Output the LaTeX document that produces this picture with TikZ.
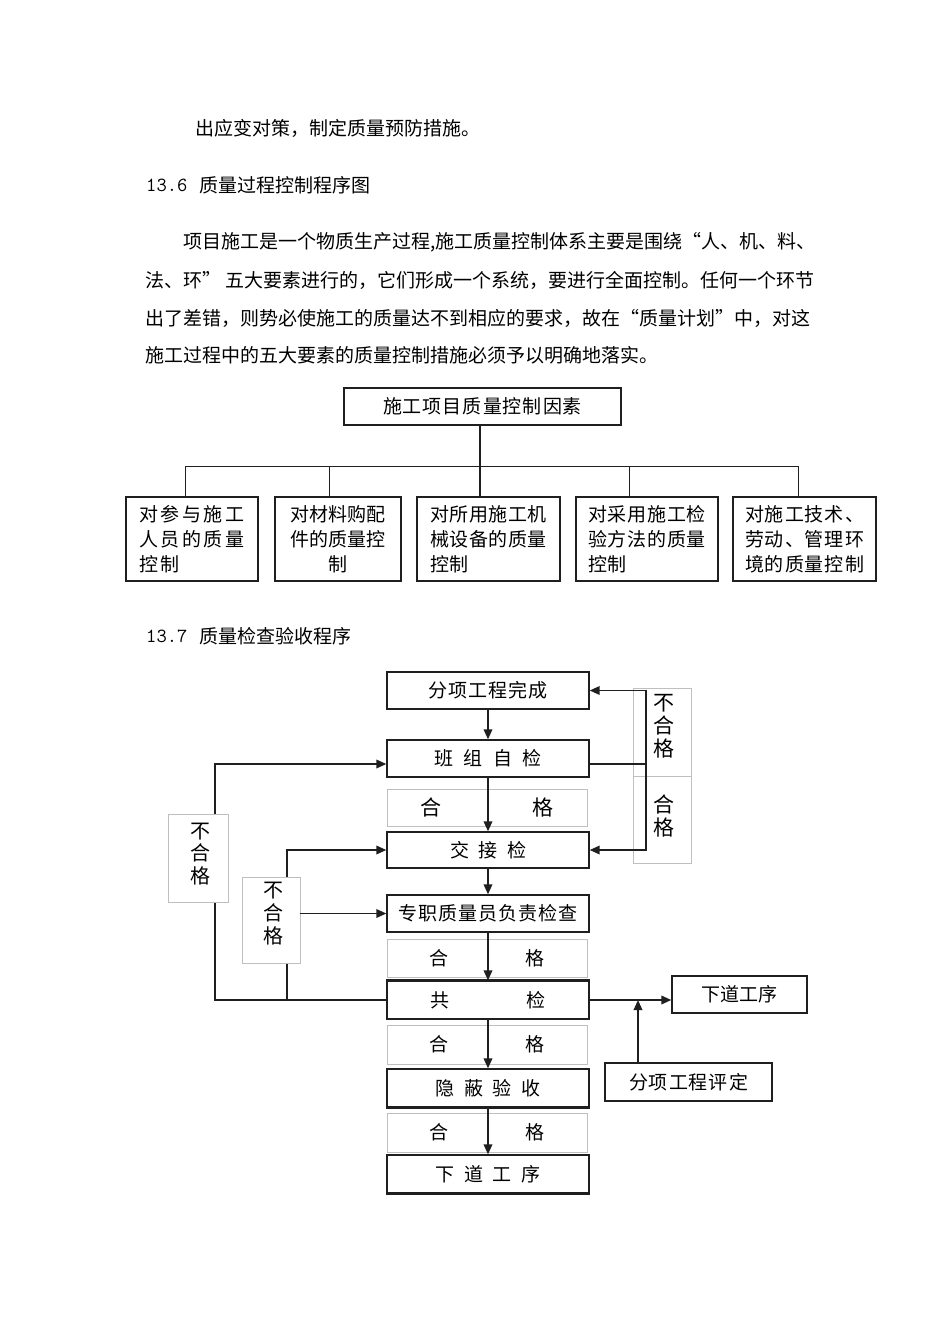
\documentclass[tikz,border=0pt]{standalone}
\usepackage{fontspec}
\setmainfont{Noto Sans CJK SC}
\usetikzlibrary{arrows.meta,backgrounds}
\newcommand\myBody{\fontsize{19}{19}\selectfont}
\newcommand\myBox{\fontsize{19}{25}\selectfont}
\newcommand\myVert{\fontsize{21}{23}\selectfont}
\newcommand\myBig{\fontsize{21}{21}\selectfont}
\makeatletter
\newcommand\ls[2]{\def\ls@k{#1}\ls@a#2\relax}
\def\ls@a#1{\ifx\relax#1\else#1\expandafter\ls@b\fi}
\def\ls@b#1{\ifx\relax#1\else\kern\ls@k pt#1\expandafter\ls@b\fi}
\makeatother
\begin{document}
\begin{tikzpicture}[x=1pt,y=-1pt,
  box/.style={draw=black!88, line width=1.3pt, inner sep=0pt, font=\myBox},
  gbox/.style={draw=black!25, line width=0.9pt, fill=white, inner sep=0pt, font=\myBody},
  conn/.style={draw=black!88, line width=1.8pt},
  thin/.style={draw=black!88, line width=1pt},
  arr/.style={conn, -{Triangle[length=10pt,width=8.5pt]}},
  txt/.style={anchor=west, inner sep=0pt, font=\myBody},
  vlab/.style={inner sep=0pt, align=center, font=\myVert},
]
\useasboundingbox (0,0) rectangle (950,1344);

% ---------- text ----------
\node[txt] (t0) at (195,128) {出应变对策，制定质量预防措施。};
\node[txt, font=\fontsize{20}{20}\selectfont\ttfamily] (h1n) at (146,185) {13.6};
\node[txt] (h1) at (199,185) {质量过程控制程序图};
\node[txt] (p1) at (183,242) {项目施工是一个物质生产过程,施工质量控制体系主要是围绕“人、机、料、};
\node[txt] (p2) at (145,280) {法、环” 五大要素进行的，它们形成一个系统，要进行全面控制。任何一个环节};
\node[txt] (p3) at (145,318) {出了差错，则势必使施工的质量达不到相应的要求，故在“质量计划”中，对这};
\node[txt] (p4) at (145,355) {施工过程中的五大要素的质量控制措施必须予以明确地落实。};
\node[txt, font=\fontsize{20}{20}\selectfont\ttfamily] (h2n) at (146,636) {13.7};
\node[txt] (h2) at (199,636) {质量检查验收程序};

% ---------- tree ----------
\node[box, minimum width=277, minimum height=37] (top) at (482.5,406.5) {\ls{1}{施工项目质量控制因素}};
\node[box, minimum width=132, minimum height=84, align=left] (b1) at (192,539)
  {\ls{2.5}{对参与施工}\\\ls{2.5}{人员的质量}\\\ls{2.5}{控制}};
\node[box, minimum width=126, minimum height=84, align=center] (b2) at (338,539)
  {对材料购配\\件的质量控\\制};
\node[box, minimum width=143, minimum height=84, align=left] (b3) at (488.5,539)
  {\ls{0.6}{对所用施工机}\\\ls{0.6}{械设备的质量}\\\ls{0.6}{控制}};
\node[box, minimum width=142, minimum height=84, align=left] (b4) at (647,539)
  {\ls{0.8}{对采用施工检}\\\ls{0.8}{验方法的质量}\\\ls{0.8}{控制}};
\node[box, minimum width=143, minimum height=84, align=left] (b5) at (804.5,539)
  {\ls{1}{对施工技术、}\\\ls{1}{劳动、管理环}\\\ls{1}{境的质量控制}};

\coordinate (hub) at (480,466);
\coordinate (d1) at (185,466);
\coordinate (d2) at (329,466);
\coordinate (d4) at (629,466);
\coordinate (d5) at (798,466);
\draw[conn] (top.south -| hub) -- (hub) -- (hub |- b3.north);
\draw[thin] (d1) -- (d5);
\draw[thin] (d1) -- (d1 |- b1.north);
\draw[thin] (d2) -- (d2 |- b2.north);
\draw[thin] (d4) -- (d4 |- b4.north);
\draw[thin] (d5) -- (d5 |- b5.north);

% ---------- flow chart ----------
\node[box, minimum width=202, minimum height=37] (n1) at (488,690.5) {\ls{1}{分项工程完成}};
\node[box, minimum width=202, minimum height=37] (n2) at (488,758.5) {\ls{10.3}{班组自检}};
\node[gbox, minimum width=200, minimum height=37, font=\myBig] (g1) at (487,807.5) {合\hspace{91pt}格};
\node[box, minimum width=202, minimum height=36] (n3) at (488,850) {\ls{9.5}{交接检}};
\node[box, minimum width=202, minimum height=37] (n4) at (488,913.5) {\ls{1}{专职质量员负责检查}};
\node[gbox, minimum width=200, minimum height=38] (g2) at (487,958) {合\hspace{77pt}格};
\node[box, minimum width=202, minimum height=38] (n5) at (488,1000) {共\hspace{77pt}检};
\node[gbox, minimum width=200, minimum height=39] (g3) at (487,1044.5) {合\hspace{77pt}格};
\node[box, minimum width=202, minimum height=38] (n6) at (488,1088) {\ls{9.5}{隐蔽验收}};
\node[gbox, minimum width=200, minimum height=39] (g4) at (487,1132.5) {合\hspace{77pt}格};
\node[box, minimum width=202, minimum height=38] (n7) at (488,1174) {\ls{9.5}{下道工序}};
\node[box, minimum width=135, minimum height=37] (r1) at (739.5,994.5) {下道工序};
\node[box, minimum width=167, minimum height=38] (r2) at (688.5,1082) {\ls{1}{分项工程评定}};

\draw[line width=2.6pt, black!88] (n5.north west) -- (n5.north east);
\draw[line width=2.6pt, black!88] (n6.south west) -- (n6.south east);
\draw[line width=2.6pt, black!88] (n7.south west) -- (n7.south east);

% right gray labels
\node[gbox, minimum width=58, minimum height=88] (gR1) at (662,732) {};
\node[gbox, minimum width=58, minimum height=87] (gR2) at (662,819.5) {};
\node[vlab] (gR1t) at (664,726) {不\\合\\格};
\node[vlab] (gR2t) at (664,816) {合\\格};

% left loops behind the gray labels
\coordinate (lo) at (215,1000);
\coordinate (li) at (287,1000);
\begin{pgfonlayer}{background}
\draw[arr] (n5.west) -- (lo) |- ([yshift=-5.5pt]n2.west);
\draw[arr] (li) |- (n3.west);
\end{pgfonlayer}
\node[gbox, minimum width=60, minimum height=88] (gL1) at (198,858) {};
\node[gbox, minimum width=58, minimum height=86] (gL2) at (271,920) {};
\node[vlab, font=\fontsize{20}{22.5}\selectfont] (gL1t) at (200,854) {不\\合\\格};
\node[vlab, font=\fontsize{20}{23}\selectfont] (gL2t) at (273,914) {不\\合\\格};
\draw[arr] (gL2.east |- n4.west) -- (n4.west);

% centre arrows
\draw[arr] (n1) -- (n2);
\draw[arr] (n2) -- (n3);
\draw[arr] (n3) -- (n4);
\draw[arr] (n4) -- (n5);
\draw[arr] (n5) -- (n6);
\draw[arr] (n6) -- (n7);

% right loop
\coordinate (rl) at (646,764);
\draw[conn] ([yshift=-5.5pt]n2.east) -- (rl);
\draw[arr] (rl) |- (n1.east);
\draw[arr] (rl) |- (n3.east);

% to next step
\coordinate (ev) at (638,1000);
\draw[arr] (n5.east) -- (n5.east -| r1.west);
\draw[arr] (ev |- r2.north) -- (ev);
\end{tikzpicture}
\end{document}
